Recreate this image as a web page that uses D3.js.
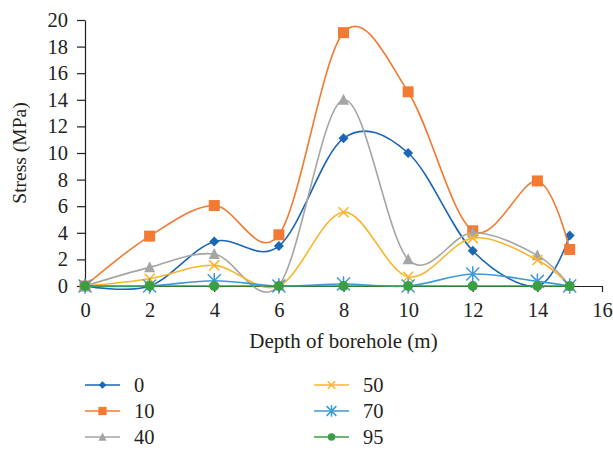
<!DOCTYPE html>
<html>
<head>
<meta charset="utf-8">
<script src="https://cdn.jsdelivr.net/npm/d3@7"></script>
<style>
  html, body { margin: 0; padding: 0; background: #fff; }
  svg text { font-family: "Liberation Serif", "DejaVu Serif", serif; fill: #231f20; }
</style>
</head>
<body>
<svg id="chart" width="613" height="452"></svg>
<script>
// Borehole depths (m)
const depths = [0, 2, 4, 6, 8, 10, 12, 14, 15];

// Stress (MPa) per series
const s0  = [0, 0,   3.35, 3.0, 11.1, 10.0, 2.65, 0,   3.8];
const s10 = [0, 3.75, 6.05, 3.85, 19.05, 14.6, 4.15, 7.9, 2.75];
const s40 = [0, 1.4, 2.4, 0.05, 14.0, 2.0, 4.0, 2.3, 0];
const s50 = [0, 0.55, 1.55, 0,  5.55, 0.7, 3.6, 1.95, 0];
const s70 = [0, 0,   0.4, 0,   0.15, 0,   0.9, 0.35, 0];
const s95 = [0, 0,   0,   0,   0,    0,   0,   0,    0];

const seriesNames = ["0", "10", "40", "50", "70", "95"];
const seriesValues = [s0, s10, s40, s50, s70, s95];
const seriesColors = ["#1c66b6", "#f37a32", "#a5a5a5", "#fbb52a", "#3d9ad8", "#3a9e42"];
const seriesMarkers = ["diamond", "square", "triangle", "cross", "star", "circle"];

const xTicks = [0, 2, 4, 6, 8, 10, 12, 14, 16];
const yTicks = [0, 2, 4, 6, 8, 10, 12, 14, 16, 18, 20];

const svg = d3.select("#chart");
const plot = { left: 85, right: 602, top: 20, bottom: 286 };
const fontSize = "20.5px";

const x = d3.scaleLinear().domain([0, 16]).range([plot.left, plot.right]);
const y = d3.scaleLinear().domain([0, 20]).range([plot.bottom, plot.top]);

// Axes
const yAxis = d3.axisLeft(y).tickValues(yTicks).tickSize(8).tickPadding(9).tickSizeOuter(0);
const xAxis = d3.axisBottom(x).tickValues(xTicks).tickSize(6).tickPadding(10).tickSizeOuter(0);

const gy = svg.append("g").attr("transform", `translate(${plot.left},0)`).call(yAxis);
const gx = svg.append("g").attr("transform", `translate(0,${plot.bottom})`).call(xAxis);
[gx, gy].forEach(g => {
  g.selectAll("path.domain").attr("stroke", "#231f20").attr("stroke-width", 1.2);
  g.selectAll(".tick line").attr("stroke", "#231f20").attr("stroke-width", 1.2);
  g.selectAll(".tick text")
    .style("font-family", '"Liberation Serif", "DejaVu Serif", serif')
    .style("font-size", fontSize).attr("fill", "#231f20");
});

// Axis titles
svg.append("text")
  .attr("transform", `translate(26,${(plot.top + plot.bottom) / 2}) rotate(-90)`)
  .attr("text-anchor", "middle")
  .style("font-size", "19.5px")
  .text("Stress (MPa)");
svg.append("text")
  .attr("x", (plot.left + plot.right) / 2).attr("y", 348)
  .attr("text-anchor", "middle")
  .style("font-size", "21px")
  .text("Depth of borehole (m)");

// Marker drawing
function drawMarker(g, type, color, size) {
  const s = size;
  switch (type) {
    case "diamond":
      g.append("path").attr("d", `M0,${-s/2}L${s/2},0L0,${s/2}L${-s/2},0Z`).attr("fill", color);
      break;
    case "square":
      g.append("rect").attr("x", -s/2).attr("y", -s/2).attr("width", s).attr("height", s).attr("fill", color);
      break;
    case "triangle":
      g.append("path").attr("d", `M0,${-s*0.55}L${s/2},${s*0.45}L${-s/2},${s*0.45}Z`).attr("fill", color);
      break;
    case "cross":
      g.append("path").attr("d", `M${-s/2},${-s/2}L${s/2},${s/2}M${s/2},${-s/2}L${-s/2},${s/2}`)
        .attr("stroke", color).attr("stroke-width", 1.5).attr("fill", "none");
      break;
    case "star":
      g.append("path").attr("d", `M${-s/2},${-s/2}L${s/2},${s/2}M${s/2},${-s/2}L${-s/2},${s/2}M0,${-s*0.6}L0,${s*0.6}`)
        .attr("stroke", color).attr("stroke-width", 1.5).attr("fill", "none");
      break;
    case "circle":
      g.append("circle").attr("r", s/2).attr("fill", color);
      break;
  }
}

const markerSize = { diamond: 10, square: 11, triangle: 11, cross: 10, star: 13, circle: 10 };

// Smoothed series lines
const line = d3.line()
  .x((d, i) => x(depths[i]))
  .y(d => y(d))
  .curve(d3.curveCatmullRom.alpha(0));

seriesValues.forEach((vals, k) => {
  const g = svg.append("g");
  g.append("path")
    .attr("d", line(vals))
    .attr("fill", "none")
    .attr("stroke", seriesColors[k])
    .attr("stroke-width", 1.6);
  vals.forEach((v, i) => {
    const m = g.append("g").attr("transform", `translate(${x(depths[i])},${y(v)})`);
    drawMarker(m, seriesMarkers[k], seriesColors[k], markerSize[seriesMarkers[k]]);
  });
});

// Legend, two columns of three
const legendCols = [85, 314];
const legendRows = [385, 411, 437];
seriesNames.forEach((name, k) => {
  const col = Math.floor(k / 3), row = k % 3;
  const lx = legendCols[col], ly = legendRows[row];
  const g = svg.append("g").attr("transform", `translate(${lx},${ly})`);
  g.append("line").attr("x1", 0).attr("x2", 35).attr("y1", 0).attr("y2", 0)
    .attr("stroke", seriesColors[k]).attr("stroke-width", 1.6);
  const m = g.append("g").attr("transform", "translate(17.5,0)");
  drawMarker(m, seriesMarkers[k], seriesColors[k], markerSize[seriesMarkers[k]] * 0.75);
  g.append("text").attr("x", 49).attr("y", 7)
    .style("font-size", fontSize)
    .text(name);
});
</script>
</body>
</html>
